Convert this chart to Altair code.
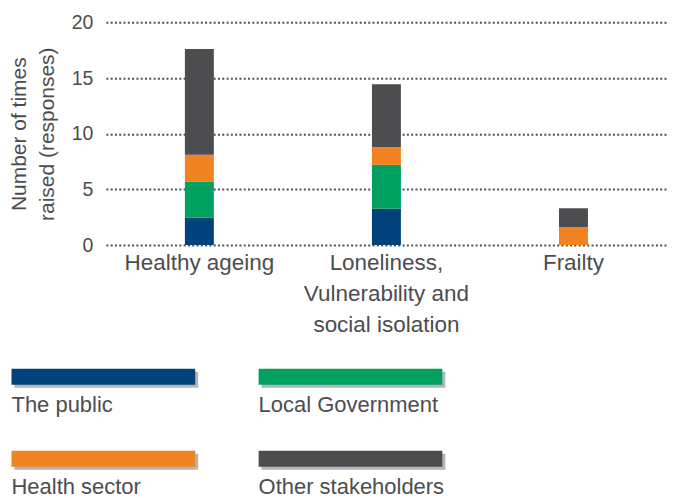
import altair as alt
import pandas as pd

categories = ["Healthy ageing", "Loneliness,\nVulnerability and\nsocial isolation", "Frailty"]
series = ["The public", "Local Government", "Health sector", "Other stakeholders"]
colors = ["#00437A", "#00A15F", "#F28322", "#4D4D4F"]
the_public = [2.45, 3.25, 0.0]
local_government = [3.25, 3.95, 0.0]
health_sector = [2.4, 1.6, 1.6]
other_stakeholders = [9.5, 5.65, 1.7]
y_ticks = [0, 5, 10, 15, 20]

values = [the_public, local_government, health_sector, other_stakeholders]
rows = []
for si, (s, vals) in enumerate(zip(series, values)):
    for c, v in zip(categories, vals):
        rows.append({"category": c, "series": s, "value": v, "order": si})
df = pd.DataFrame(rows)

TXT = "#4D4D4F"
FONT = "Liberation Sans"

color_scale = alt.Scale(domain=series, range=colors)

bars = alt.Chart(df).mark_bar(size=29).encode(
    x=alt.X("category:N", sort=categories, title=None,
            scale=alt.Scale(paddingInner=0, paddingOuter=0, align=0),
            axis=alt.Axis(labelExpr="split(datum.label, '\\n')", labelAngle=0,
                          labelFontSize=22.5, labelLineHeight=31, labelPadding=7,
                          labelColor=TXT, labelFont=FONT, domain=False, ticks=False,
                          labelBaseline="top")),
    y=alt.Y("value:Q", stack="zero", scale=alt.Scale(domain=[0, 20]),
            title=["Number of times", "raised (responses)"],
            axis=alt.Axis(values=y_ticks, domain=False, ticks=False, labelPadding=13,
                          labelFontSize=19.5, labelColor=TXT, labelFont=FONT,
                          titleFontSize=21, titleFont=FONT, titleColor=TXT,
                          titleFontWeight="normal", titleLineHeight=28, titlePadding=14,
                          grid=True, gridColor="#505050", gridDash=[2, 2.3], gridWidth=2)),
    color=alt.Color("series:N", scale=color_scale, legend=None),
    order=alt.Order("order:Q"),
).properties(width=562, height=223)

# legend panel
leg_rows = []
for i, s in enumerate(series):
    leg_rows.append({"series": s, "col": i % 2, "row": i // 2})
ldf = pd.DataFrame(leg_rows)

lx = alt.X("col:Q", scale=alt.Scale(domain=[0, 1], range=[-94.5, 153]), axis=None)
ly = alt.Y("row:Q", scale=alt.Scale(domain=[0, 1], range=[0, 82]), axis=None)

shadow = alt.Chart(ldf).mark_rect(color="#B5B5B5", xOffset=3, yOffset=3,
                                   x2Offset=187, y2Offset=19).encode(
    x=lx, x2="col:Q", y=ly, y2="row:Q")
swatch = alt.Chart(ldf).mark_rect(x2Offset=184, y2Offset=16).encode(
    x=lx, x2="col:Q", y=ly, y2="row:Q",
    color=alt.Color("series:N", scale=color_scale, legend=None))
labels = alt.Chart(ldf).mark_text(align="left", baseline="alphabetic", dy=43,
                                  fontSize=22, font=FONT, color=TXT).encode(
    x=lx, y=ly, text="series:N")
legend = alt.layer(shadow, swatch, labels).properties(width=562, height=116)

chart = alt.vconcat(bars, legend, spacing=32).properties(
    padding={"left": 0, "top": 4, "right": 0, "bottom": 0}
).configure(font=FONT).configure_view(strokeWidth=0, stroke="transparent")

chart.save("out.html", embed_options={"renderer": "svg", "actions": False})
